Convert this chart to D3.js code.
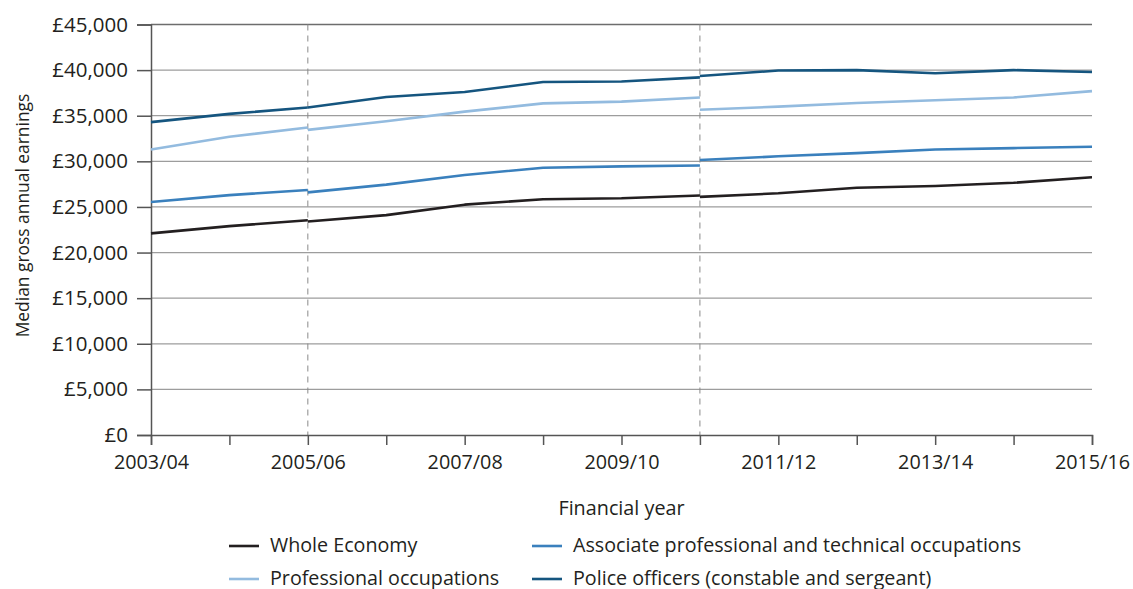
<!DOCTYPE html>
<html>
<head>
<meta charset="utf-8">
<script src="https://cdn.jsdelivr.net/npm/d3@7"></script>
<style>
  html, body { margin: 0; padding: 0; background: #fff; }
  svg { display: block; font-family: "Open Sans", "Noto Sans", sans-serif; }
</style>
</head>
<body>
<svg id="chart" width="1133" height="589"></svg>
<script>
// ---- Data ----
const years = ["2003/04","2004/05","2005/06","2006/07","2007/08","2008/09","2009/10",
               "2010/11","2011/12","2012/13","2013/14","2014/15","2015/16"];
const tickLabelYears = ["2003/04","2005/06","2007/08","2009/10","2011/12","2013/14","2015/16"];
const breakYears = ["2005/06","2010/11"];
const segmentStarts = [0, 2, 7]; // index in years where each segment begins
const yTicks = [0,5000,10000,15000,20000,25000,30000,35000,40000,45000];

const wholeEconomy = [
  [22100, 22900, 23550],
  [23400, 24100, 25250, 25850, 25950, 26250],
  [26100, 26500, 27100, 27300, 27650, 28250]
];
const professional = [
  [31300, 32700, 33700],
  [33450, 34400, 35450, 36350, 36550, 37000],
  [35650, 36000, 36400, 36700, 37000, 37700]
];
const associate = [
  [25550, 26300, 26850],
  [26600, 27450, 28500, 29300, 29450, 29550],
  [30150, 30550, 30900, 31300, 31450, 31600]
];
const police = [
  [34300, 35200, 35900],
  [35900, 37050, 37600, 38700, 38750, 39200],
  [39350, 39950, 40000, 39650, 40000, 39800]
];

const seriesNames = ["Whole Economy","Professional occupations",
                     "Associate professional and technical occupations",
                     "Police officers (constable and sergeant)"];
const seriesValues = [wholeEconomy, professional, associate, police];
const seriesColors = ["#231f20","#93bbdf","#3a80bd","#15557f"];

// ---- Layout ----
const svg = d3.select("#chart");
const mLeft = 151, mRight = 1092, mTop = 24.5, mBottom = 435;
const textColor = "#231f20";

const x = d3.scalePoint().domain(years).range([mLeft, mRight]);
const y = d3.scaleLinear().domain([0, 45000]).range([mBottom, mTop]);

// gridlines
svg.append("g").selectAll("line").data(yTicks.filter(d => d > 0)).join("line")
  .attr("x1", mLeft).attr("x2", mRight)
  .attr("y1", d => y(d)).attr("y2", d => y(d))
  .attr("stroke", d => d === 45000 ? "#6d6d6d" : "#9d9d9d")
  .attr("stroke-width", 1.3);

// dashed break lines
svg.append("g").selectAll("line").data(breakYears).join("line")
  .attr("x1", d => x(d)).attr("x2", d => x(d))
  .attr("y1", mTop).attr("y2", mBottom)
  .attr("stroke", "#8a8a8a").attr("stroke-width", 1)
  .attr("stroke-dasharray", "6,5");

// y axis
const yAxis = svg.append("g")
  .attr("transform", `translate(${mLeft},0)`)
  .call(d3.axisLeft(y).tickValues(yTicks).tickSize(14).tickPadding(9)
        .tickFormat(d => "£" + d3.format(",")(d)));
yAxis.select(".domain").attr("stroke", "#555").attr("stroke-width", 1.5);
yAxis.selectAll(".tick line").attr("stroke", "#555").attr("stroke-width", 1.5);
yAxis.selectAll("text").attr("font-size", 20.5).attr("fill", textColor)
  .attr("font-family", "'Open Sans', sans-serif");

// x axis
const xAxis = svg.append("g")
  .attr("transform", `translate(0,${mBottom})`)
  .call(d3.axisBottom(x).tickSize(10).tickPadding(10)
        .tickFormat(d => tickLabelYears.includes(d) ? d : ""));
xAxis.select(".domain").attr("stroke", "#555").attr("stroke-width", 1.5);
xAxis.selectAll(".tick line").attr("stroke", "#555").attr("stroke-width", 1.5);
xAxis.selectAll("text").attr("font-size", 19.8).attr("fill", textColor)
  .attr("font-family", "'Open Sans', sans-serif");

// axis titles
svg.append("text")
  .attr("transform", `translate(29,215.5) rotate(-90)`)
  .attr("text-anchor", "middle").attr("font-size", 17.4).attr("fill", textColor)
  .text("Median gross annual earnings");
svg.append("text")
  .attr("x", (mLeft + mRight) / 2).attr("y", 515)
  .attr("text-anchor", "middle").attr("font-size", 19.8).attr("fill", textColor)
  .text("Financial year");

// lines
const line = d3.line().x(d => x(d.year)).y(d => y(d.value));
seriesValues.forEach((segs, si) => {
  segs.forEach((seg, k) => {
    const pts = seg.map((v, i) => ({ year: years[segmentStarts[k] + i], value: v }));
    svg.append("path").datum(pts)
      .attr("d", line).attr("fill", "none")
      .attr("stroke", seriesColors[si]).attr("stroke-width", 2.6)
      .attr("stroke-linejoin", "round");
  });
});

// legend
const legendPos = [[229, 546], [229, 579], [532, 546], [532, 579]];
const lg = svg.append("g").selectAll("g").data(seriesNames).join("g")
  .attr("transform", (d, i) => `translate(${legendPos[i][0]},${legendPos[i][1]})`);
lg.append("line").attr("x1", 0).attr("x2", 30).attr("y1", 0).attr("y2", 0)
  .attr("stroke", (d, i) => seriesColors[i]).attr("stroke-width", 2.6);
lg.append("text").attr("x", 41).attr("y", 5.5).attr("font-size", 19.7)
  .attr("fill", textColor).text(d => d);
</script>
</body>
</html>
